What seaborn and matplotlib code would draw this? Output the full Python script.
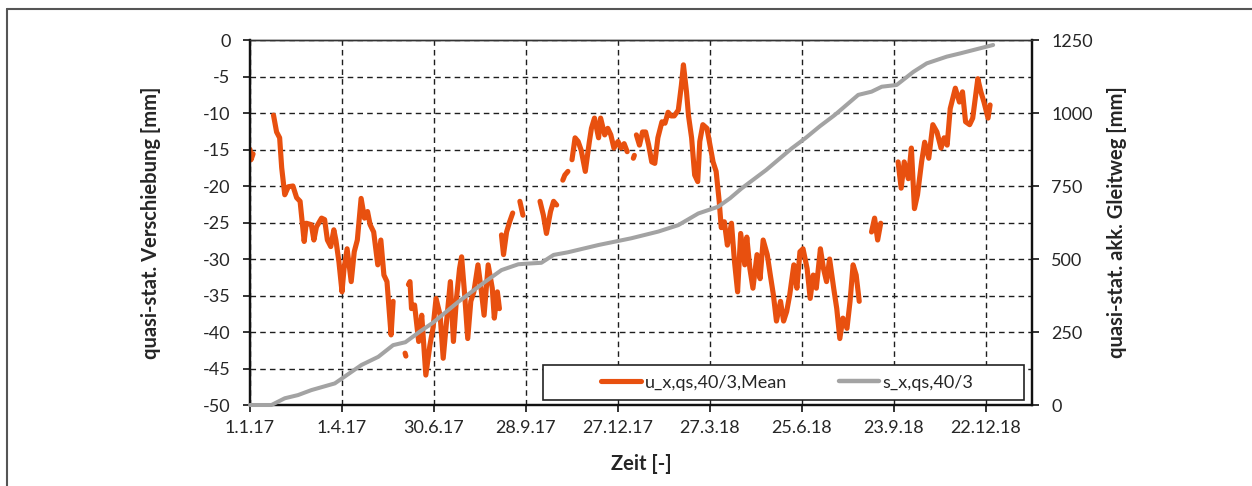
import numpy as np
import pandas as pd
import matplotlib
matplotlib.use("Agg")
import matplotlib.pyplot as plt
import seaborn as sns
from matplotlib.patches import Rectangle
from matplotlib.lines import Line2D

# ---------------- data ----------------
start_date = "2017-01-01"
x_max_days = 765
tick_labels = ["1.1.17", "1.4.17", "30.6.17", "28.9.17", "27.12.17",
               "27.3.18", "25.6.18", "23.9.18", "22.12.18"]
left_ticks = [0, -5, -10, -15, -20, -25, -30, -35, -40, -45, -50]
right_ticks = [0, 250, 500, 750, 1000, 1250]

label_u = "u_x,qs,40/3,Mean"
label_s = "s_x,qs,40/3"

NA = np.nan
# days since start (NaN marks a gap in the measured series)
u_days = [0, 1, 3, NA,
          23, 26, 29, 31, 34, 37.5, 42, 45.6, 49, 53, 55, 60, 62.5, 65, 70, 73, 75.7, 79, 82, 84,
          87, 90, 92, 95, 99, 102, 105, 108.7, 112, 115, 117.5, 121, 125, 128, 131, 134, 138, 140, NA,
          151.7, 152.5, NA,
          155, 156.5, 158, 161, 165, 168, 172, 176, 179, 182, 186, 189, 192, 196, 199, 202, 205, 207,
          210, 213, 216, 219, 223, 226, 229, 233, 237, 239, 242, 244, NA,
          246, 248, 251, 254, 257, NA,
          264, 267, NA,
          283.7, 287, 290, 294, 297, 300, NA,
          306, 308, 311, NA,
          315, 318, 321, 324, 328, 332, 334, 337, 341, 343, 347, 350, 353, 356, 360, 363, 366, 369, NA,
          375, 376, NA,
          378, 381, 384, 387, 390, 393, 396, 399, 403, 406, 409, 412, 415, 419, 422, 424, 427, 429,
          432, 435, 438, 440, 443, 447, 450, 453, 456, 459, 461, 464, 467, 468, 471, 474, 477, 480,
          484, 486, 489, 492, 496, 499, 502, 506, 509, 512, 515, 519, 522, 525, 528, 532, 535, 538,
          541, 545, 548, 551, 554, 558, 561, 564, 567, 571, 574, 577, 580, 584, 587, 590, 593, 596, NA,
          608, 611, 614, 617, NA,
          634, 637, 640, 644, 647, 650, 653, 657, 660, 664, 668, 672, 676, 679, 682, 685, 690, 694,
          697, 700, 704, 707, 712, 715, 718, 722, 724]
u_vals = [-15.0, -16.4, -15.6, NA,
          -10.3, -12.6, -13.4, -17.5, -21.2, -20.1, -20.0, -21.6, -22.1, -27.6, -25.1, -25.3, -27.4,
          -25.6, -24.4, -24.6, -27.4, -28.3, -26.0, -27.4,
          -30.4, -34.5, -31.3, -28.6, -33.1, -29.0, -27.4, -21.7, -24.4, -23.5, -25.3, -26.3, -30.8,
          -27.4, -32.2, -33.1, -40.4, -35.8, NA,
          -42.9, -43.3, NA,
          -33.5, -33.1, -36.8, -36.3, -41.3, -37.7, -45.9, -41.8, -39.5, -35.4, -37.7, -43.6, -39.0,
          -33.1, -41.3, -35.4, -31.3, -29.7,
          -34.9, -40.9, -35.8, -34.5, -30.8, -34.0, -37.7, -30.8, -34.0, -38.1, -34.5, -36.8, NA,
          -26.7, -29.4, -26.3, -24.9, -23.7, NA,
          -22.1, -24.0, NA,
          -22.1, -24.0, -26.5, -23.5, -22.1, -22.6, NA,
          -19.2, -18.5, -18.0, NA,
          -16.4, -13.4, -13.9, -15.1, -18.0, -13.9, -12.1, -10.7, -13.4, -10.7, -13.0, -12.1, -13.0,
          -14.8, -13.9, -14.8, -14.2, -15.3, NA,
          -16.2, -15.8, NA,
          -13.0, -14.4, -12.6, -12.6, -14.4, -16.7, -16.9, -13.4, -11.2, -11.4, -9.9, -10.4, -10.4,
          -9.6, -6.2, -3.4, -7.1, -10.4,
          -13.4, -18.5, -19.4, -13.9, -11.6, -12.1, -14.4, -16.7, -18.0, -22.1, -25.7, -24.9, -28.1,
          -27.4, -25.1, -30.4, -34.5, -26.5,
          -30.8, -27.0, -31.3, -34.0, -29.4, -32.7, -27.4, -29.4, -32.2, -34.9, -38.5, -35.8, -38.5,
          -37.2, -34.9, -30.8, -34.0, -29.0,
          -28.6, -31.3, -35.4, -32.2, -34.0, -28.6, -31.3, -33.1, -30.0, -34.0, -36.8, -40.9, -38.1,
          -39.5, -35.8, -30.8, -32.2, -35.8, NA,
          -26.3, -24.4, -27.4, -25.1, NA,
          -16.7, -20.3, -16.7, -19.0, -14.8, -23.1, -21.2, -16.7, -14.0, -16.2, -11.6, -12.6, -14.8,
          -13.4, -14.4, -9.4, -6.6, -8.5,
          -7.1, -11.2, -11.6, -10.7, -5.3, -7.1, -8.5, -10.7, -8.9]

s_days = [0, 21, 34, 47, 60, 83, 90, 109, 125.5, 140, 152, 166, 179, 204, 230, 246, 262.5,
          270.6, 285, 297, 311, 341, 373, 399.5, 419, 438.6, 458, 469.6, 481, 505, 530, 543,
          557.6, 572, 595, 608, 618, 632.6, 649, 662, 681.6, 694.6, 727]
s_vals = [0, 0, 23, 34, 51, 74, 91, 137, 165, 205, 215, 251, 282, 354, 422, 462, 482,
          484, 487, 514, 523, 548, 571, 594, 616, 656, 679, 708, 742, 805, 879, 913,
          955, 993, 1062, 1073, 1090, 1096, 1141, 1170, 1193, 1204, 1233]

# ---------------- frames ----------------
t0 = pd.Timestamp(start_date)
u_days_a = np.array(u_days, dtype=float)
u_vals_a = np.array(u_vals, dtype=float)
seg = np.cumsum(np.isnan(u_vals_a))
df_u = pd.DataFrame({"day": u_days_a, "u": u_vals_a, "seg": seg}).dropna()
df_u["date"] = t0 + pd.to_timedelta(df_u["day"], unit="D")
df_s = pd.DataFrame({"day": s_days, "s": s_vals})
df_s["date"] = t0 + pd.to_timedelta(df_s["day"], unit="D")

# ---------------- style ----------------
sns.set_style("ticks")
plt.rcParams["font.family"] = ["Lato", "DejaVu Sans"]
plt.rcParams["font.size"] = 13
txt = "#262626"
orange = "#E8500F"
gray = "#A3A3A3"
tick_fs = 13
lab_fs = 14.5

fig = plt.figure(figsize=(12.52, 4.86), dpi=100)
ax1 = fig.add_axes([250 / 1252, 1 - 405 / 486, 782 / 1252, 365 / 486])
ax2 = ax1.twinx()

sns.lineplot(data=df_u, x="date", y="u", units="seg", estimator=None, ax=ax1,
             color=orange, linewidth=3.7, solid_capstyle="round", solid_joinstyle="round",
             legend=False)
sns.lineplot(data=df_s, x="date", y="s", estimator=None, ax=ax2,
             color=gray, linewidth=2.9, solid_capstyle="round", solid_joinstyle="round",
             legend=False, zorder=3, clip_on=False)

tick_dates = pd.to_datetime(tick_labels, format="%d.%m.%y")
ax1.set_xlim(t0, t0 + pd.Timedelta(days=x_max_days))
ax1.set_xticks(tick_dates)
ax1.set_xticklabels(tick_labels)
ax1.set_ylim(-50, 0)
ax1.set_yticks(left_ticks)
ax1.set_yticklabels([str(v) for v in left_ticks])
ax2.set_ylim(0, 1250)
ax2.set_yticks(right_ticks)
ax2.set_yticklabels([str(v) for v in right_ticks])

ax1.set_axisbelow(True)
ax1.grid(True, axis="both", color="#1e1e1e", linestyle=(0, (4, 3)), linewidth=1.0)
ax2.grid(False)

for ax in (ax1, ax2):
    for sp in ax.spines.values():
        sp.set_color("#111111")
        sp.set_linewidth(1.6)
    ax.spines["top"].set_linewidth(1.0)
    ax.spines["top"].set_color("#333333")

ax1.tick_params(axis="x", direction="out", length=5, width=1.2, color="#111111",
                labelsize=tick_fs, labelcolor=txt, pad=6)
ax1.tick_params(axis="y", direction="out", length=5, width=1.2, color="#111111",
                labelsize=tick_fs, labelcolor=txt, pad=9)
ax2.tick_params(axis="y", direction="out", length=5, width=1.2, color="#111111",
                labelsize=tick_fs, labelcolor=txt, pad=9)

ax1.set_xlabel("Zeit [-]", fontsize=lab_fs, fontweight="bold", color=txt, labelpad=13)
ax1.set_ylabel("quasi-stat. Verschiebung [mm]", fontsize=lab_fs, fontweight="bold", color=txt,
               labelpad=30)
ax2.set_ylabel("quasi-stat. akk. Gleitweg [mm]", fontsize=lab_fs, fontweight="bold", color=txt,
               labelpad=10)

# legend box
bx0, by0 = (543 - 250) / 782, (405 - 400) / 365
bw, bh = (1024 - 543) / 782, 35 / 365
rect = Rectangle((bx0, by0), bw, bh, transform=ax2.transAxes, facecolor="white",
                 edgecolor="#222222", linewidth=1.2, zorder=10, clip_on=False)
ax2.add_patch(rect)
handles = [Line2D([], [], color=orange, linewidth=3.7, solid_capstyle="round", label=label_u),
           Line2D([], [], color=gray, linewidth=3.2, solid_capstyle="round", label=label_s)]
leg = ax2.legend(handles=handles, loc="center", bbox_to_anchor=(bx0 + bw / 2 + 0.005, by0 + bh / 2),
                 ncol=2, frameon=False, handlelength=2.2, handletextpad=0.2,
                 columnspacing=2.9, fontsize=tick_fs, labelcolor=txt)
leg.set_zorder(11)

# outer frame (top and left edges visible)
fig.add_artist(Line2D([7 / 1252, 7 / 1252], [0, 1 - 9 / 486], transform=fig.transFigure,
                      color="#555555", linewidth=1.5))
fig.add_artist(Line2D([7 / 1252, 1], [1 - 9 / 486, 1 - 9 / 486], transform=fig.transFigure,
                      color="#555555", linewidth=1.5))

fig.savefig("out.png", dpi=100)
